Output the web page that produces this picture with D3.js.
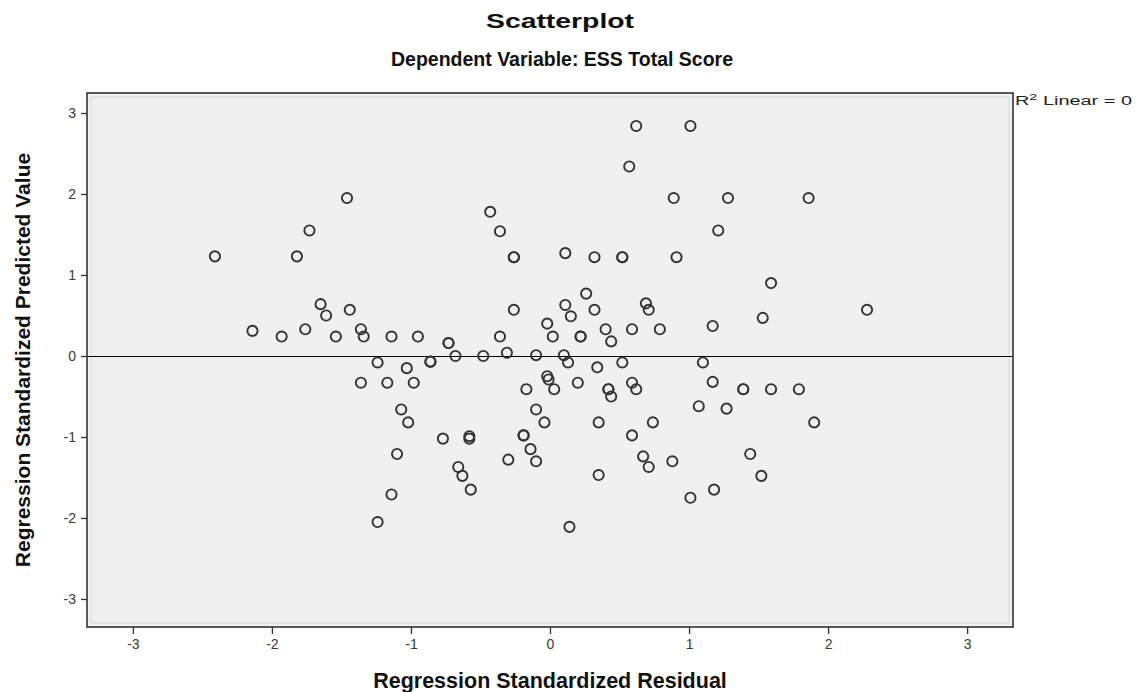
<!DOCTYPE html>
<html><head><meta charset="utf-8">
<script src="https://cdn.jsdelivr.net/npm/d3@7"></script>
<style>body{margin:0;background:#fff;}svg{display:block;font-family:"Liberation Sans",Arial,sans-serif;}</style>
</head><body>
<svg id="c" width="1136" height="692"></svg>
<script>
const residual = [
 -1.46,-1.73,-2.41,-1.82,-1.65,-1.61,-1.44,-2.14,-1.93,-1.76,-1.54,-1.36,-1.34,-1.14,-1.24,
 0.62,1.01,0.57,0.89,-0.43,-0.36,-0.26,-0.26,0.11,0.32,0.52,0.52,0.91,1.17,
 0.26,0.11,0.32,0.15,0.69,0.71,-0.26,-0.02,0.40,0.59,0.79,0.02,0.22,0.22,0.44,-0.36,-0.73,-0.73,-0.95,
 -1.03,-0.86,-0.86,-0.68,-0.48,-0.31,-0.10,0.10,0.13,0.34,0.52,1.10,
 -0.98,-0.02,-0.01,-0.17,0.03,0.20,0.42,0.42,0.44,0.59,0.62,
 -1.07,-1.02,-0.10,-0.04,0.35,0.74,1.07,
 -0.77,-0.58,-0.58,-0.19,-0.19,-0.14,-0.30,-0.10,-1.10,-0.66,-0.63,-0.57,0.35,0.59,0.67,0.71,0.88,
 -1.14,0.14,1.01,1.18,
 -1.36,-1.17,-1.24,
 1.17,1.39,1.39,1.59,1.79,1.27,1.90,1.44,1.52,
 1.28,1.86,1.21,1.59,1.53,2.28
];
const predicted = [
 1.95,1.55,1.23,1.23,0.64,0.50,0.57,0.31,0.24,0.33,0.24,0.33,0.24,0.24,-0.08,
 2.84,2.84,2.34,1.95,1.78,1.54,1.22,1.22,1.27,1.22,1.22,1.22,1.22,0.37,
 0.77,0.63,0.57,0.49,0.65,0.57,0.57,0.40,0.33,0.33,0.33,0.24,0.24,0.24,0.18,0.24,0.16,0.16,0.24,
 -0.15,-0.07,-0.07,0.00,0.00,0.04,0.01,0.01,-0.08,-0.14,-0.08,-0.08,
 -0.33,-0.25,-0.29,-0.41,-0.41,-0.33,-0.41,-0.41,-0.50,-0.33,-0.41,
 -0.66,-0.82,-0.66,-0.82,-0.82,-0.82,-0.62,
 -1.02,-0.99,-1.02,-0.98,-0.98,-1.15,-1.28,-1.30,-1.21,-1.37,-1.48,-1.65,-1.47,-0.98,-1.24,-1.37,-1.30,
 -1.71,-2.11,-1.75,-1.65,
 -0.33,-0.33,-2.05,
 -0.32,-0.41,-0.41,-0.41,-0.41,-0.65,-0.82,-1.21,-1.48,
 1.95,1.95,1.55,0.90,0.47,0.57
];
const xTicks = [-3,-2,-1,0,1,2,3];
const yTicks = [-3,-2,-1,0,1,2,3];
const titleText = "Scatterplot";
const subtitleText = "Dependent Variable: ESS Total Score";
const xTitle = "Regression Standardized Residual";
const yTitle = "Regression Standardized Predicted Value";
const fitSlope = 0, fitIntercept = 0;

const svg = d3.select("#c");
const L = 87, R = 1013, T = 93, B = 627;
const x = d3.scaleLinear().domain([-3.33, 3.33]).range([L, R]);
const y = d3.scaleLinear().domain([-3.346, 3.247]).range([B, T]);

svg.append("rect").attr("x",L).attr("y",T).attr("width",R-L).attr("height",B-T).attr("fill","#f0f0f0");
svg.append("rect").attr("x",L+4).attr("y",T+4).attr("width",R-L-8).attr("height",B-T-8)
  .attr("fill","none").attr("stroke","#dcdcdc").attr("stroke-width",1.2);

// axes
const fmt = d => String(d);
const xAxis = svg.append("g").attr("transform",`translate(0,${B})`)
  .call(d3.axisBottom(x).tickValues(xTicks).tickSize(7).tickPadding(5).tickFormat(fmt));
const yAxis = svg.append("g").attr("transform",`translate(${L},0)`)
  .call(d3.axisLeft(y).tickValues(yTicks).tickSize(6).tickPadding(5).tickFormat(fmt));
[xAxis,yAxis].forEach(g=>{
  g.select(".domain").remove();
  g.selectAll(".tick line").attr("stroke","#333").attr("stroke-width",1.3);
  g.selectAll(".tick text").attr("fill","#3a3a3a").style("font-size","14px")
   .style("font-family",'"Liberation Sans",Arial,sans-serif');
});

// fit line
svg.append("line").attr("x1",x(-3.33)).attr("x2",x(3.33))
  .attr("y1",Math.round(y(fitIntercept+fitSlope*-3.33))+0.5).attr("y2",Math.round(y(fitIntercept+fitSlope*3.33))+0.5)
  .attr("stroke","#000").attr("stroke-width",1.2).attr("shape-rendering","crispEdges");

// points
svg.append("g").selectAll("circle").data(residual.map((r,i)=>[r,predicted[i]])).join("circle")
  .attr("cx",d=>x(d[0])).attr("cy",d=>y(d[1])).attr("r",5.1)
  .attr("fill","none").attr("stroke","#333").attr("stroke-width",1.9);

// frame
svg.append("rect").attr("x",L).attr("y",T).attr("width",R-L).attr("height",B-T)
  .attr("fill","none").attr("stroke","#333").attr("stroke-width",1.6);

// titles
svg.append("text").attr("x",560).attr("y",28).attr("text-anchor","middle")
  .attr("font-weight","bold").attr("font-size",21).attr("fill","#111")
  .attr("textLength",148).attr("lengthAdjust","spacingAndGlyphs").text(titleText);
svg.append("text").attr("x",562).attr("y",66).attr("text-anchor","middle")
  .attr("font-weight","bold").attr("font-size",19.5).attr("fill","#111").text(subtitleText);
svg.append("text").attr("x",550).attr("y",688).attr("text-anchor","middle")
  .attr("font-weight","bold").attr("font-size",21.5).attr("fill","#111").text(xTitle);
svg.append("text").attr("transform",`translate(30,${(T+B)/2}) rotate(-90)`).attr("text-anchor","middle")
  .attr("font-weight","bold").attr("font-size",21).attr("fill","#111").text(yTitle);

// R2 label
const r2 = svg.append("text").attr("x",1015).attr("y",105).attr("font-size",12.5).attr("fill","#222")
  .attr("textLength",117).attr("lengthAdjust","spacingAndGlyphs");
r2.append("tspan").text("R");
r2.append("tspan").attr("dy",-5).attr("font-size",9).text("2");
r2.append("tspan").attr("dy",5).text(" Linear = 0");
</script>
</body></html>
